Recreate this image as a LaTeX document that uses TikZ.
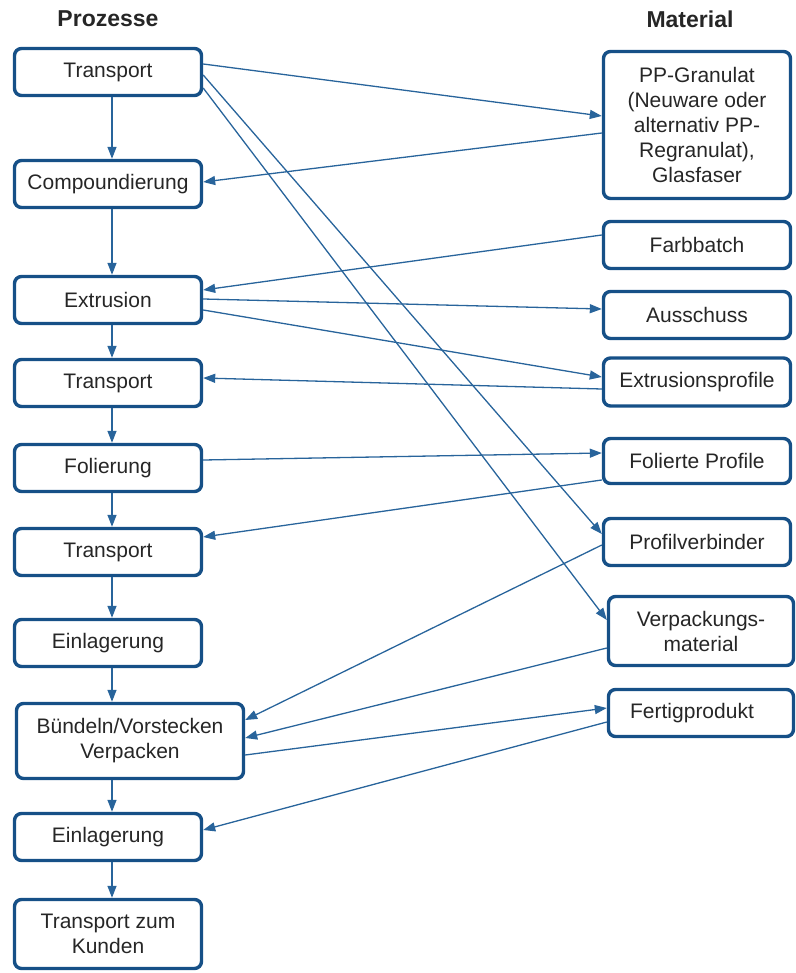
\documentclass[tikz,border=0pt]{standalone}
\usepackage{fontspec}
\setmainfont{Liberation Sans}
\usetikzlibrary{arrows.meta}
\definecolor{boxblue}{RGB}{22,80,135}
\definecolor{lineblue}{RGB}{40,100,155}

\begin{document}
\begin{tikzpicture}[x=1pt,y=-1pt]

  \tikzstyle{every node}=[font=\fontsize{21}{25}\selectfont, text=black!85]
  \tikzstyle{box}=[draw=boxblue, line width=3.4pt, rounded corners=7pt, align=center, inner sep=2pt, minimum width=187pt, minimum height=47pt]
  \tikzstyle{flow}=[draw=lineblue, line width=1.3pt, -{Triangle[length=12pt,width=9pt]}]

  \useasboundingbox (0,0) rectangle (795,973);

  \node (hproz) at (108,19) [font=\fontsize{23}{25}\selectfont\bfseries] {Prozesse};
  \node (hmat) at (690,19) [font=\fontsize{23}{25}\selectfont\bfseries] {Material};

  %%% Prozesse
  \node (t1) at (108,72) [box] {Transport};
  \node (comp) at (108,184) [box] {Compoundierung};
  \node (extr) at (108,300) [box] {Extrusion};
  \node (t2) at (108,383) [box] {Transport};
  \node (fol) at (108,468) [box] {Folierung};
  \node (t3) at (108,552) [box] {Transport};
  \node (ein1) at (108,643) [box] {Einlagerung};
  \node (bun) at (130,741) [box, minimum width=227pt, minimum height=75pt] {B\"undeln/Vorstecken\\Verpacken};
  \node (ein2) at (108,837) [box] {Einlagerung};
  \node (kund) at (108,934) [box, minimum height=69pt] {Transport zum\\Kunden};

  \coordinate (ax) at (112,0);
  \foreach \a/\b in {t1/comp, comp/extr, extr/t2, t2/fol, fol/t3, t3/ein1, ein1/bun, bun/ein2, ein2/kund}
  {
    \draw [flow] (\a.south -| ax) -- (\b.north -| ax);
  }

  %%% Material
  \node (pp) at (697,125) [box, minimum height=147pt] {PP-Granulat\\(Neuware oder\\alternativ PP-\\Regranulat),\\Glasfaser};
  \node (farb) at (697,245) [box] {Farbbatch};
  \node (aus) at (697,315) [box] {Ausschuss};
  \node (exprof) at (697,382) [box, minimum height=48pt] {Extrusionsprofile};
  \node (folprof) at (697,461) [box, minimum height=45pt] {Folierte Profile};
  \node (pverb) at (697,542) [box] {Profilverbinder};
  \node (verp) at (701,631) [box, minimum width=185pt, minimum height=69pt] {Verpackungs-\\material};
  \node (fert) at (701,713) [box, minimum width=185pt] {Fertigprodukt\hspace*{18pt}};

  %%% Fluesse
  \draw [flow] ([yshift=8pt]t1.east) -- ([yshift=9pt]pp.west);
  \draw [flow] ([yshift=-8pt]pp.west) -- ([yshift=2pt]comp.east);
  \draw [flow] ([yshift=-3pt]t1.east) -- ([yshift=8pt]pverb.west);
  \draw [flow] ([yshift=-16pt]t1.east) -- ([yshift=11pt]verp.west);
  \draw [flow] ([yshift=10pt]farb.west) -- ([yshift=10pt]extr.east);
  \draw [flow] ([yshift=1pt]extr.east) -- ([yshift=6pt]aus.west);
  \draw [flow] ([yshift=-10pt]extr.east) -- ([yshift=5pt]exprof.west);
  \draw [flow] ([yshift=-7pt]exprof.west) -- ([yshift=5pt]t2.east);
  \draw [flow] ([yshift=8pt]fol.east) -- ([yshift=8pt]folprof.west);
  \draw [flow] ([yshift=-19pt]folprof.west) -- ([yshift=15pt]t3.east);
  \draw [flow] ([yshift=-3pt]pverb.west) -- ([yshift=21pt]bun.east);
  \draw [flow] ([yshift=-17pt]verp.west) -- ([yshift=3pt]bun.east);
  \draw [flow] ([yshift=-14pt]bun.east) -- ([yshift=5pt]fert.west);
  \draw [flow] ([yshift=-9pt]fert.west) -- ([yshift=7pt]ein2.east);

\end{tikzpicture}
\end{document}
